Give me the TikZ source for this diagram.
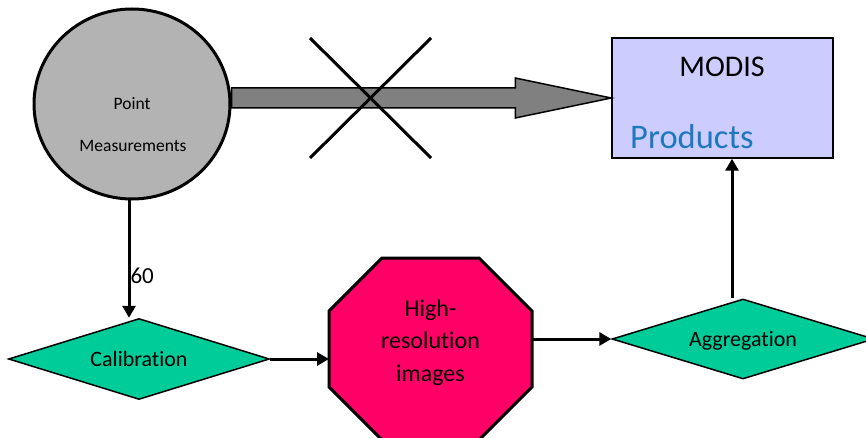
\documentclass[tikz,border=0pt]{standalone}
\usepackage{fontspec}
\setmainfont{Carlito}[Ligatures={NoCommon}]
\usetikzlibrary{arrows.meta,shapes.geometric,calc}
\definecolor{circfill}{RGB}{179,179,179}
\definecolor{arrfill}{RGB}{128,128,128}
\definecolor{boxfill}{RGB}{204,204,255}
\definecolor{prodblue}{RGB}{30,120,190}
\definecolor{dgreen}{RGB}{0,204,153}
\definecolor{hpink}{RGB}{255,0,102}
\begin{document}
\begin{tikzpicture}[x=1pt,y=-1pt,
  txt/.style={inner sep=0pt, anchor=base},
  conn/.style={line width=3pt, -{Triangle[length=12pt,width=13pt]}},
  dia/.style={diamond, draw, line width=1.5pt, fill=dgreen, aspect=3.2, inner sep=0pt,
              font=\fontsize{22}{26}\selectfont, text height=14.17pt, text depth=0pt},
  crossline/.style={line width=3pt}]
\useasboundingbox (0,0) rectangle (866,438);

% circle
\node[ellipse, draw, line width=3pt, fill=circfill, minimum width=196pt, minimum height=190pt, inner sep=0pt] (pm) at (132,104) {};
\node[txt, font=\fontsize{17.5}{21}\selectfont] (pmt1) at (132,109.6) {Point};
\node[txt, font=\fontsize{17.5}{21}\selectfont] (pmt2) at (133,151.6) {Measurements};

% MODIS box
\node[rectangle, draw, line width=1.5pt, fill=boxfill, minimum width=221pt, minimum height=120pt, inner sep=0pt] (box) at (722.5,98) {};
\node[txt, font=\fontsize{30}{36}\selectfont] (modis) at (722,76.7) {MODIS};
\node[txt, font=\fontsize{34.5}{41}\selectfont, text=prodblue, anchor=base west] (prod) at (630,148.1) {Products};

% big gray arrow
\coordinate (gs) at (pm.east |- box.west);
\coordinate (gt) at (box.west);
\draw[line width=1.5pt, fill=arrfill]
  ($(gs)+(0,10)$) -- ($(gt)+(-96,10)$) -- ($(gt)+(-96,20)$) -- (gt)
  -- ($(gt)+(-96,-20)$) -- ($(gt)+(-96,-10)$) -- ($(gs)+(0,-10)$) -- cycle;

% cross
\draw[crossline] (310,38) -- (431,158);
\draw[crossline] (431,38) -- (310,158);

% Calibration
\node[dia, minimum width=261pt, minimum height=81pt] (cal) at (139,359) {Calibration};

% octagon
\node[minimum width=203pt, minimum height=182pt, inner sep=0pt, outer sep=0pt] (hr) at (430.5,349) {};
\draw[line width=3pt, fill=hpink]
  ($(hr.north west)+(53,0)$) -- ($(hr.north east)+(-53,0)$) -- ($(hr.north east)+(0,53)$)
  -- ($(hr.south east)+(0,-53)$) -- ($(hr.south east)+(-53,0)$) -- ($(hr.south west)+(53,0)$)
  -- ($(hr.south west)+(0,-53)$) -- ($(hr.north west)+(0,53)$) -- cycle;
\node[font=\fontsize{24}{32.5}\selectfont, align=center, inner sep=0pt] (hrt) at (430.5,342.5) {High-\\resolution\\images};

% Aggregation
\node[dia, minimum width=262pt, minimum height=80pt] (agg) at (743,339) {Aggregation};

% connectors
\draw[conn] ([xshift=-3pt]pm.south) -- ([xshift=-3pt]pm.south |- cal.north)
  node[txt, pos=0.71, anchor=base west, font=\fontsize{23}{27}\selectfont] (lbl) {60};
\draw[conn] (cal.east) -- (cal.east -| hr.west);
\draw[conn] (hr.east |- agg.west) -- (agg.west);
\draw[conn] ([xshift=-11pt]agg.north) -- ([xshift=-11pt]agg.north |- box.south);
\end{tikzpicture}
\end{document}
